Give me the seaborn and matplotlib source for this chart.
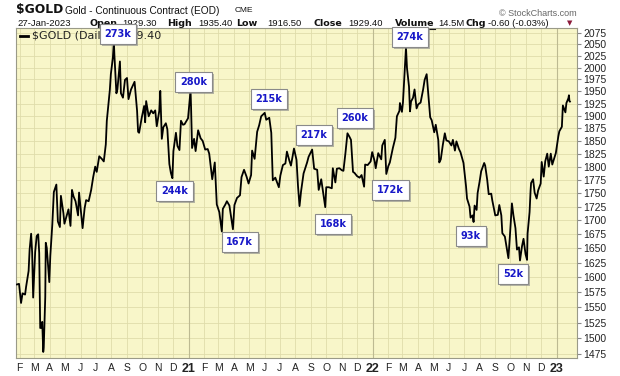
import pandas as pd
import numpy as np
import seaborn as sns
import matplotlib.pyplot as plt
from matplotlib import patheffects
from matplotlib.lines import Line2D

# Gold continuous contract, closes (a few per week)
dates_2020 = ['2020-01-27', '2020-01-31', '2020-02-04', '2020-02-07', '2020-02-12', '2020-02-14',
              '2020-02-19', '2020-02-21', '2020-02-24', '2020-02-26', '2020-02-28', '2020-03-03',
              '2020-03-06', '2020-03-09', '2020-03-11', '2020-03-13', '2020-03-16', '2020-03-17',
              '2020-03-19', '2020-03-20', '2020-03-23', '2020-03-24', '2020-03-26', '2020-03-31',
              '2020-04-02', '2020-04-06', '2020-04-09', '2020-04-14', '2020-04-17', '2020-04-21',
              '2020-04-23', '2020-04-28', '2020-04-30', '2020-05-05', '2020-05-08', '2020-05-12',
              '2020-05-15', '2020-05-18', '2020-05-22', '2020-05-27', '2020-05-29', '2020-06-03',
              '2020-06-05', '2020-06-09', '2020-06-12', '2020-06-17', '2020-06-22', '2020-06-26',
              '2020-06-30', '2020-07-03', '2020-07-08', '2020-07-13', '2020-07-17', '2020-07-21',
              '2020-07-23', '2020-07-27', '2020-07-29', '2020-07-31', '2020-08-04', '2020-08-06',
              '2020-08-07', '2020-08-11', '2020-08-13', '2020-08-18', '2020-08-20', '2020-08-24',
              '2020-08-28', '2020-09-01', '2020-09-04', '2020-09-09', '2020-09-16', '2020-09-21',
              '2020-09-23', '2020-09-25', '2020-09-30', '2020-10-05', '2020-10-07', '2020-10-09',
              '2020-10-14', '2020-10-19', '2020-10-23', '2020-10-27', '2020-10-30', '2020-11-04',
              '2020-11-06', '2020-11-09', '2020-11-12', '2020-11-17', '2020-11-20', '2020-11-24',
              '2020-11-27', '2020-11-30', '2020-12-02', '2020-12-07', '2020-12-10', '2020-12-14',
              '2020-12-17', '2020-12-21', '2020-12-24', '2020-12-31']
close_2020 = [1588, 1589, 1557, 1573, 1571, 1584,
              1611, 1648, 1676, 1643, 1566, 1644,
              1672, 1675, 1642, 1516, 1517, 1526,
              1478, 1485, 1567, 1660, 1651, 1592,
              1637, 1693, 1752, 1766, 1698, 1688,
              1745, 1713, 1694, 1710, 1720, 1690,
              1756, 1744, 1735, 1709, 1751, 1704,
              1686, 1722, 1737, 1735, 1756, 1780,
              1800, 1790, 1820, 1815, 1810, 1843,
              1890, 1931, 1953, 1986, 2021, 2056,
              2028, 1946, 1954, 2013, 1946, 1937,
              1974, 1978, 1934, 1954, 1970, 1910,
              1868, 1866, 1895, 1920, 1887, 1930,
              1899, 1911, 1905, 1911, 1879, 1910,
              1951, 1854, 1877, 1885, 1873, 1805,
              1788, 1778, 1830, 1866, 1840, 1832,
              1890, 1882, 1883, 1895]

dates_2021 = ['2021-01-05', '2021-01-06', '2021-01-08', '2021-01-12', '2021-01-15', '2021-01-20',
              '2021-01-25', '2021-01-29', '2021-02-03', '2021-02-08', '2021-02-11', '2021-02-17',
              '2021-02-22', '2021-02-26', '2021-03-03', '2021-03-08', '2021-03-10', '2021-03-15',
              '2021-03-18', '2021-03-23', '2021-03-30', '2021-04-02', '2021-04-07', '2021-04-13',
              '2021-04-16', '2021-04-21', '2021-04-26', '2021-04-30', '2021-05-05', '2021-05-07',
              '2021-05-12', '2021-05-17', '2021-05-21', '2021-05-25', '2021-06-01', '2021-06-04',
              '2021-06-10', '2021-06-14', '2021-06-17', '2021-06-22', '2021-06-29', '2021-07-02',
              '2021-07-07', '2021-07-12', '2021-07-15', '2021-07-20', '2021-07-23', '2021-07-29',
              '2021-08-03', '2021-08-06', '2021-08-09', '2021-08-12', '2021-08-17', '2021-08-24',
              '2021-08-27', '2021-09-03', '2021-09-07', '2021-09-13', '2021-09-16', '2021-09-21',
              '2021-09-29', '2021-10-01', '2021-10-06', '2021-10-12', '2021-10-14', '2021-10-19',
              '2021-10-22', '2021-10-27', '2021-11-01', '2021-11-04', '2021-11-08', '2021-11-12',
              '2021-11-16', '2021-11-19', '2021-11-23', '2021-11-26', '2021-12-01', '2021-12-06',
              '2021-12-10', '2021-12-15', '2021-12-17', '2021-12-22', '2021-12-28', '2021-12-31']
close_2021 = [1952, 1918, 1836, 1854, 1830, 1871,
              1855, 1850, 1833, 1834, 1825, 1776,
              1808, 1729, 1715, 1680, 1721, 1729,
              1735, 1727, 1684, 1728, 1741, 1746,
              1780, 1794, 1781, 1768, 1784, 1831,
              1815, 1868, 1881, 1899, 1906, 1892,
              1896, 1866, 1774, 1779, 1761, 1783,
              1803, 1806, 1829, 1811, 1802, 1835,
              1813, 1763, 1726, 1753, 1787, 1808,
              1819, 1833, 1796, 1794, 1756, 1776,
              1724, 1761, 1761, 1759, 1797, 1770,
              1796, 1797, 1793, 1792, 1826, 1865,
              1858, 1852, 1790, 1788, 1782, 1779,
              1784, 1762, 1804, 1803, 1810, 1828]

dates_2022 = ['2022-01-05', '2022-01-07', '2022-01-12', '2022-01-18', '2022-01-20', '2022-01-25',
              '2022-01-28', '2022-02-01', '2022-02-04', '2022-02-10', '2022-02-15', '2022-02-18',
              '2022-02-23', '2022-02-24', '2022-02-28', '2022-03-02', '2022-03-04', '2022-03-08',
              '2022-03-10', '2022-03-14', '2022-03-16', '2022-03-18', '2022-03-22', '2022-03-25',
              '2022-03-29', '2022-04-01', '2022-04-06', '2022-04-11', '2022-04-14', '2022-04-18',
              '2022-04-21', '2022-04-25', '2022-04-28', '2022-05-03', '2022-05-06', '2022-05-11',
              '2022-05-13', '2022-05-16', '2022-05-20', '2022-05-24', '2022-05-27', '2022-06-01',
              '2022-06-06', '2022-06-09', '2022-06-13', '2022-06-16', '2022-06-21', '2022-06-24',
              '2022-06-30', '2022-07-05', '2022-07-07', '2022-07-12', '2022-07-14', '2022-07-18',
              '2022-07-20', '2022-07-22', '2022-07-26', '2022-07-28', '2022-08-01', '2022-08-04',
              '2022-08-10', '2022-08-12', '2022-08-16', '2022-08-19', '2022-08-24', '2022-08-26',
              '2022-09-01', '2022-09-06', '2022-09-09', '2022-09-13', '2022-09-15', '2022-09-20',
              '2022-09-23', '2022-09-27', '2022-09-30', '2022-10-04', '2022-10-07', '2022-10-11',
              '2022-10-14', '2022-10-18', '2022-10-20', '2022-10-24', '2022-10-27', '2022-10-31',
              '2022-11-03', '2022-11-04', '2022-11-08', '2022-11-10', '2022-11-11', '2022-11-15',
              '2022-11-18', '2022-11-22', '2022-11-25', '2022-11-30', '2022-12-02', '2022-12-06',
              '2022-12-09', '2022-12-13', '2022-12-16', '2022-12-20', '2022-12-23', '2022-12-30']
close_2022 = [1810, 1797, 1826, 1814, 1841, 1852,
              1786, 1801, 1808, 1836, 1856, 1899,
              1910, 1926, 1908, 1927, 1966, 2043,
              1999, 1960, 1909, 1929, 1937, 1954,
              1915, 1923, 1927, 1954, 1974, 1986,
              1947, 1897, 1891, 1867, 1882, 1852,
              1808, 1814, 1842, 1865, 1851, 1849,
              1841, 1852, 1831, 1849, 1834, 1828,
              1807, 1763, 1740, 1725, 1705, 1709,
              1697, 1727, 1719, 1750, 1772, 1791,
              1807, 1802, 1775, 1748, 1749, 1737,
              1709, 1710, 1728, 1709, 1677, 1671,
              1655, 1633, 1672, 1731, 1709, 1686,
              1648, 1652, 1629, 1654, 1667, 1640,
              1630, 1676, 1715, 1755, 1769, 1776,
              1751, 1740, 1755, 1768, 1809, 1781,
              1810, 1825, 1800, 1825, 1804, 1826]

dates_2023 = ['2023-01-04', '2023-01-06', '2023-01-11', '2023-01-13', '2023-01-18', '2023-01-20',
              '2023-01-24', '2023-01-25', '2023-01-26', '2023-01-27']
close_2023 = [1859, 1869, 1878, 1921, 1907, 1926,
              1936, 1942, 1930, 1929]

price_ticks = [1475, 1500, 1525, 1550, 1575, 1600, 1625, 1650, 1675, 1700, 1725, 1750, 1775,
               1800, 1825, 1850, 1875, 1900, 1925, 1950, 1975, 2000, 2025, 2050, 2075]
month_letters = ['J', 'F', 'M', 'A', 'M', 'J', 'J', 'A', 'S', 'O', 'N', 'D']

# open interest notes on the turning points
oi_labels = ['273k', '280k', '215k', '217k', '260k', '274k',
             '244k', '167k', '168k', '172k', '93k', '52k']
# where the boxes sit (axes fraction), layout only
oi_pos = [(0.182, 0.982), (0.317, 0.836), (0.451, 0.785), (0.531, 0.676), (0.604, 0.727),
          (0.702, 0.973), (0.283, 0.506), (0.399, 0.352), (0.565, 0.406), (0.668, 0.509),
          (0.811, 0.370), (0.886, 0.255)]

df = pd.DataFrame({
    'date': pd.to_datetime(dates_2020 + dates_2021 + dates_2022 + dates_2023),
    'close': close_2020 + close_2021 + close_2022 + close_2023,
})

W, H = 620, 376
fig = plt.figure(figsize=(W / 100, H / 100), dpi=100)
fig.patch.set_facecolor('white')
ax = fig.add_axes([16 / W, 18 / H, 561 / W, 330 / H])
ax.set_facecolor('#F8F6C9')

sns.lineplot(data=df, x='date', y='close', ax=ax, color='black', lw=1.3, legend=False, zorder=3)

ax.set_yscale('log')
ax.set_ylim(1468.5, 2086)
ax.set_xlim(pd.Timestamp('2020-01-25'), pd.Timestamp('2023-02-10'))

ax.set_yticks(price_ticks, labels=[str(p) for p in price_ticks])
ax.minorticks_off()
ax.yaxis.tick_right()
ax.tick_params(axis='y', length=3, width=0.8, color='#888888', labelsize=7.5, pad=1.5,
               labelcolor='#222222')
for lab in ax.get_yticklabels():
    lab.set_family('Liberation Sans')

months = pd.date_range('2020-02-01', '2023-01-01', freq='MS')
mlabels = [str(d.year)[2:] if d.month == 1 else month_letters[d.month - 1] for d in months]
ax.set_xticks(months, labels=mlabels)
ax.tick_params(axis='x', length=0, pad=3.5, labelsize=7.5, labelcolor='#222222')
for d, lab in zip(months, ax.get_xticklabels()):
    lab.set_family('Liberation Sans')
    if d.month == 1:
        lab.set_fontweight('bold')
        lab.set_fontsize(9)

ax.grid(True, color='#DFDCAB', lw=0.6)
ax.set_axisbelow(True)
for d in months:
    if d.month == 1:
        ax.axvline(d, color='#BDBA92', lw=0.8, zorder=1)
ax.set_xlabel('')
ax.set_ylabel('')
for s in ax.spines.values():
    s.set_color('#9A9A88')
    s.set_linewidth(0.8)

# legend line inside plot (partly hidden behind the first box, as in the source)
ax.add_line(Line2D([20 / W, 28 / W], [1 - 36 / H, 1 - 36 / H], transform=fig.transFigure,
                   color='black', lw=2, clip_on=False, zorder=2))
ax.text(32 / W, 1 - 36 / H, '$GOLD (Daily) 1929.40', transform=fig.transFigure,
        fontsize=8, va='center', ha='left', color='#222222', zorder=2)

# header
def head(x, y, s, **kw):
    opts = dict(transform=fig.transFigure, va='center', ha='left', clip_on=False,
                zorder=1, color='#111111')
    opts.update(kw)
    return ax.text(x / W, 1 - y / H, s, **opts)

head(16, 10, '$GOLD', fontsize=8.8, fontweight='bold')
head(65, 10.5, 'Gold - Continuous Contract (EOD)', fontsize=7.3, family='Liberation Sans')
head(235, 11, 'CME', fontsize=6, family='Liberation Sans')
head(577, 13.5, '\u00a9 StockCharts.com', fontsize=6.5, family='Liberation Sans',
     color='#666666', ha='right')

row = 23.5
head(17, row, '27-Jan-2023', fontsize=6.8, family='Liberation Sans')
for x, s in [(89, 'Open'), (167, 'High'), (236, 'Low'), (313, 'Close'), (395, 'Volume'), (466, 'Chg')]:
    head(x, row, s, fontsize=6.8, fontweight='bold')
for x, s in [(122, '1929.30'), (198, '1935.40'), (267, '1916.50'), (348, '1929.40'),
             (438, '14.5M'), (488, '-0.60 (-0.03%)')]:
    head(x, row, s, fontsize=6.8, family='Liberation Sans')
ax.add_line(Line2D([395 / W, 435 / W], [1 - 28.5 / H, 1 - 28.5 / H], transform=fig.transFigure,
                   color='#111111', lw=0.8, clip_on=False, zorder=1))
head(567, row, '\u25bc', fontsize=5, color='#8B1A3A')

# open interest boxes
for s, (fx, fy) in zip(oi_labels, oi_pos):
    t = ax.text(fx, fy, s, transform=ax.transAxes, ha='center', va='center',
                fontsize=7, fontweight='bold', color='#1818C8', zorder=6, clip_on=False,
                bbox=dict(boxstyle='square,pad=0.5', fc='white', ec='#8A8A8A', lw=0.8))
    t.get_bbox_patch().set_path_effects([
        patheffects.SimplePatchShadow(offset=(1.5, -1.5), shadow_rgbFace='#888888', alpha=0.6),
        patheffects.Normal()])

fig.savefig('out.png', dpi=100)
